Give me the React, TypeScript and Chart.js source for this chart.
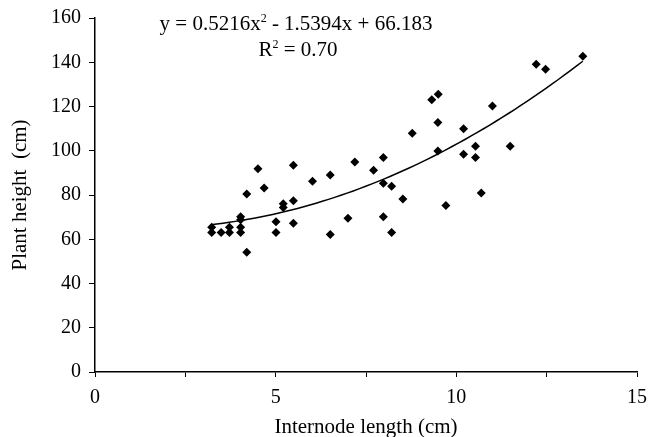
import React, { useEffect, useRef } from "react";
import { Chart, registerables } from "chart.js";

Chart.register(...registerables);

const internodeLength = [
  3.23, 3.23, 3.49, 3.72, 3.72, 4.03, 4.03, 4.03, 4.03, 4.2, 4.2, 4.51, 4.68,
  5.01, 5.01, 5.21, 5.21, 5.49, 5.49, 5.49, 6.02, 6.51, 6.51, 7.0, 7.19, 7.71,
  7.98, 7.98, 7.98, 8.21, 8.21, 8.52, 8.78, 9.32, 9.5, 9.49, 9.49, 9.71, 10.2,
  10.2, 10.53, 10.53, 10.69, 11.0, 11.49, 12.21, 12.47, 13.5,
];
const plantHeight = [
  65.4, 63.0, 63.0, 65.4, 63.0, 70.2, 68.8, 65.4, 63.0, 80.5, 54.1, 91.9, 83.2,
  67.9, 63.0, 76.0, 74.4, 93.4, 77.4, 67.2, 86.2, 89.0, 62.1, 69.5, 94.9, 91.2,
  96.9, 85.3, 70.2, 83.9, 63.0, 78.2, 107.9, 123.1, 125.5, 112.8, 99.9, 75.2,
  110.0, 98.4, 102.0, 96.9, 80.9, 120.2, 102.0, 139.1, 136.8, 142.7,
];
// trendline coefficients from the chart's equation: y = a x^2 + b x + c
const trendCoefficients = [0.5216, -1.5394, 66.183];
const trendRange = [3.2, 13.5];
// equation text: [normal, superscript, normal]
const equationLine1 = ["y = 0.5216x", "2", " - 1.5394x + 66.183"];
const equationLine2 = ["R", "2", " = 0.70"];

const FONT = "'Liberation Serif', 'Times New Roman', serif";

function drawSupText(ctx: CanvasRenderingContext2D, parts: string[], cx: number, baseY: number) {
  const main = `21px ${FONT}`;
  const sup = `12px ${FONT}`;
  ctx.font = main;
  const w0 = ctx.measureText(parts[0]).width;
  const w2 = ctx.measureText(parts[2]).width;
  ctx.font = sup;
  const w1 = ctx.measureText(parts[1]).width;
  let x = cx - (w0 + w1 + w2) / 2;
  ctx.textAlign = "left";
  ctx.textBaseline = "alphabetic";
  ctx.font = main;
  ctx.fillText(parts[0], x, baseY);
  x += w0;
  ctx.font = sup;
  ctx.fillText(parts[1], x, baseY - 8);
  x += w1;
  ctx.font = main;
  ctx.fillText(parts[2], x, baseY);
}

export default function App() {
  const ref = useRef<HTMLCanvasElement | null>(null);
  useEffect(() => {
    document.body.style.margin = "0";
    const canvas = ref.current!;
    const pts = internodeLength.map((x, i) => ({ x, y: plantHeight[i] }));
    const [a, b, c] = trendCoefficients;
    const trend: { x: number; y: number }[] = [];
    const n = 60;
    for (let i = 0; i <= n; i++) {
      const x = trendRange[0] + ((trendRange[1] - trendRange[0]) * i) / n;
      trend.push({ x, y: a * x * x + b * x + c });
    }
    const eqPlugin = {
      id: "eq",
      afterDraw(chart: any) {
        const ctx = chart.ctx;
        ctx.save();
        ctx.fillStyle = "#000";
        drawSupText(ctx, equationLine1, 296, 30);
        drawSupText(ctx, equationLine2, 298, 56);
        ctx.restore();
      },
    };
    const chart = new Chart(canvas, {
      type: "scatter",
      data: {
        datasets: [
          {
            data: pts,
            pointStyle: "rectRot",
            pointRadius: 4.5,
            backgroundColor: "#000",
            borderColor: "#000",
            borderWidth: 0,
          },
          {
            type: "line",
            data: trend,
            showLine: true,
            pointRadius: 0,
            borderColor: "#000",
            borderWidth: 1.5,
            tension: 0,
            fill: false,
          } as any,
        ],
      },
      options: {
        responsive: false,
        animation: false,
        layout: { padding: { top: 18, right: 12, left: 0, bottom: 0 } },
        plugins: { legend: { display: false }, tooltip: { enabled: false } },
        scales: {
          x: {
            type: "linear",
            min: 0,
            max: 15,
            afterFit: (s: any) => {
              s.height = 65;
              s.paddingRight = 0;
              s.paddingLeft = 0;
            },
            ticks: {
              stepSize: 2.5,
              color: "#000",
              font: { family: FONT, size: 20 },
              padding: 9,
              maxRotation: 0,
              autoSkip: false,
              callback: (v: any) => (Number(v) % 5 === 0 ? String(v) : ""),
            },
            grid: {
              drawOnChartArea: false,
              drawTicks: true,
              tickLength: 5,
              color: "#000",
              lineWidth: 1,
            },
            border: { display: true, color: "#000", width: 1.5 },
            title: {
              display: true,
              text: "Internode length (cm)",
              color: "#000",
              font: { family: FONT, size: 21 },
              padding: { top: 0, bottom: -3 },
            },
          },
          y: {
            type: "linear",
            min: 0,
            max: 160,
            afterFit: (s: any) => {
              s.width = 95;
              s.paddingTop = 0;
              s.paddingBottom = 0;
            },
            ticks: {
              stepSize: 20,
              color: "#000",
              font: { family: FONT, size: 20 },
              padding: 8,
            },
            grid: {
              drawOnChartArea: false,
              drawTicks: true,
              tickLength: 6,
              color: "#000",
              lineWidth: 1,
            },
            border: { display: true, color: "#000", width: 1.5 },
            title: {
              display: true,
              text: "Plant height  (cm)",
              color: "#000",
              font: { family: FONT, size: 21 },
              padding: { top: 8, bottom: 0 },
            },
          },
        },
      },
      plugins: [eqPlugin],
    });
    return () => chart.destroy();
  }, []);
  return (
    <div style={{ position: "fixed", left: 0, top: 0, width: 649, height: 437, background: "#fff" }}>
      <canvas ref={ref} width={649} height={437} />
    </div>
  );
}
